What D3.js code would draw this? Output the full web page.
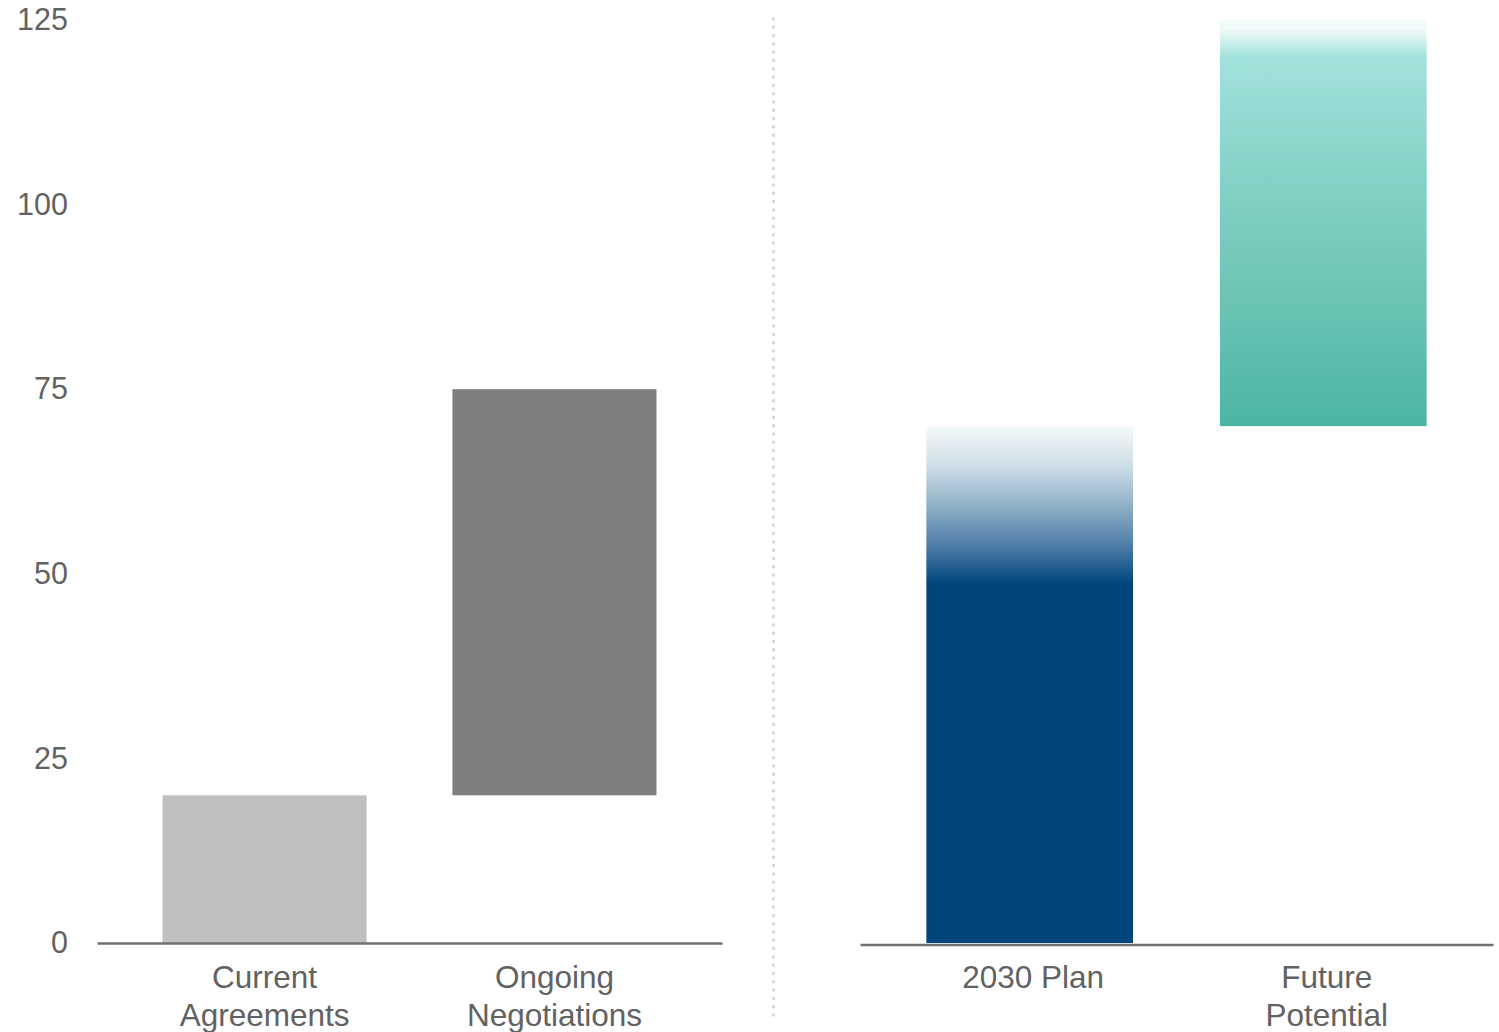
<!DOCTYPE html>
<html>
<head>
<meta charset="utf-8">
<script src="https://cdn.jsdelivr.net/npm/d3@7"></script>
<style>
  html, body { margin: 0; padding: 0; background: #ffffff; }
  svg { display: block; font-family: "Liberation Sans", Arial, sans-serif; }
</style>
</head>
<body>
<svg id="chart" width="1499" height="1032"></svg>
<script>
// Floating bars: each bar spans from a start value to an end value.
const leftCategories = ["Current Agreements", "Ongoing Negotiations"];
const leftStarts = [0, 20];
const leftEnds = [20, 75];

const rightCategories = ["2030 Plan", "Future Potential"];
const rightStarts = [0, 70];
const rightEnds = [70, 125];

// Category labels broken into lines
const labelLines = {
  "Current Agreements": ["Current", "Agreements"],
  "Ongoing Negotiations": ["Ongoing", "Negotiations"],
  "2030 Plan": ["2030 Plan"],
  "Future Potential": ["Future", "Potential"]
};

const yTicks = [0, 25, 50, 75, 100, 125];

const svg = d3.select("#chart");
const defs = svg.append("defs");

const y = d3.scaleLinear().domain([0, 125]).range([943, 20]);

const textColor = "#626262";

// Fills
const leftFills = ["#bfbfbf", "#7f7f7f"];

const gPlan = defs.append("linearGradient").attr("id", "grad-plan")
  .attr("x1", 0).attr("y1", 0).attr("x2", 0).attr("y2", 1);
[[0, "#f3f9f9"], [0.03, "#e6eff2"], [0.08, "#cbdce5"], [0.15, "#93b2c9"],
 [0.23, "#4f7fa8"], [0.305, "#00457c"], [1, "#00457c"]]
  .forEach(([o, c]) => gPlan.append("stop").attr("offset", o).attr("stop-color", c));

const gFuture = defs.append("linearGradient").attr("id", "grad-future")
  .attr("x1", 0).attr("y1", 0).attr("x2", 0).attr("y2", 1);
[[0, "#f0faf8"], [0.02, "#f2fbfa"], [0.05, "#d2f1ed"], [0.09, "#a3e2dc"],
 [0.37, "#86d3c8"], [0.69, "#6bc4b4"], [1, "#4db5a3"]]
  .forEach(([o, c]) => gFuture.append("stop").attr("offset", o).attr("stop-color", c));

const rightFills = ["url(#grad-plan)", "url(#grad-future)"];

// Y axis labels (no line)
const yAxis = d3.axisLeft(y).tickValues(yTicks).tickSize(0).tickPadding(0);
const gy = svg.append("g").attr("transform", "translate(68,0)").call(yAxis);
gy.select(".domain").remove();
gy.selectAll("text")
  .attr("fill", textColor)
  .style("font-size", "30.5px")
  .style("font-family", "'Liberation Sans', Arial, sans-serif");

function panel(categories, starts, ends, fills, range, baseY, labelShift) {
  const x = d3.scaleBand().domain(categories).range(range)
    .paddingInner(0.296).paddingOuter(0.226);

  svg.append("g").selectAll("rect")
    .data(categories)
    .join("rect")
    .attr("x", d => x(d))
    .attr("width", x.bandwidth())
    .attr("y", (d, i) => y(ends[i]))
    .attr("height", (d, i) => y(starts[i]) - y(ends[i]))
    .attr("fill", (d, i) => fills[i]);

  const gx = svg.append("g").attr("transform", `translate(0,${baseY})`)
    .call(d3.axisBottom(x).tickSize(0).tickSizeOuter(0).tickPadding(0));
  gx.select(".domain").attr("stroke", "#707070").attr("stroke-width", 2.5);
  gx.selectAll(".tick text").each(function (d) {
    const t = d3.select(this);
    t.text(null)
      .attr("fill", textColor)
      .attr("y", 0)
      .attr("dy", null)
      .style("font-size", "31.5px")
      .style("font-family", "'Liberation Sans', Arial, sans-serif");
    labelLines[d].forEach((w, i) => {
      t.append("tspan").attr("x", labelShift).attr("y", 988 - baseY + i * 38).text(w);
    });
  });
}

panel(leftCategories, leftStarts, leftEnds, leftFills, [97, 722], 943, 0);
panel(rightCategories, rightStarts, rightEnds, rightFills, [860, 1493], 944.5, 3.5);

// Dotted divider between the two panels
svg.append("line")
  .attr("x1", 773.5).attr("x2", 773.5)
  .attr("y1", 19).attr("y2", 1016)
  .attr("stroke", "#d9d9d9")
  .attr("stroke-width", 3.5)
  .attr("stroke-linecap", "round")
  .attr("stroke-dasharray", "0 8.3");
</script>
</body>
</html>
